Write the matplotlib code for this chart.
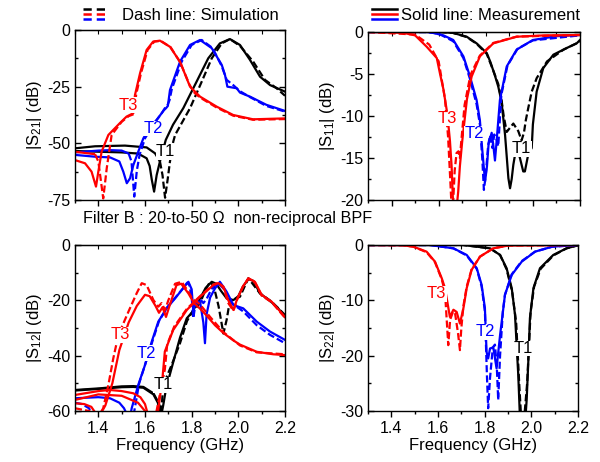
import matplotlib
matplotlib.use("Agg")
import matplotlib.pyplot as plt
from matplotlib.lines import Line2D
from matplotlib.ticker import MultipleLocator

plt.rcParams['font.family'] = ['Liberation Sans', 'DejaVu Sans']
plt.rcParams['mathtext.default'] = 'regular'

RED = '#ff0000'
BLUE = '#0000ff'
BLACK = '#000000'

# ---------------- |S21| ----------------
s21_t1_meas_f = [1.30, 1.40, 1.50, 1.57, 1.607, 1.62, 1.629, 1.639, 1.65, 1.664, 1.689, 1.72, 1.764,
                 1.821, 1.871, 1.921, 1.964, 2.007, 2.05, 2.093, 2.136, 2.2]
s21_t1_meas_db = [-53.4, -53.7, -54.0, -54.5, -56.6, -60, -66, -71.3, -64, -58, -48.5, -41.8, -34.5,
                  -22.8, -12.5, -5.9, -4.0, -6.6, -13.2, -20.6, -24.3, -27.2]
s21_t1_sim_f = [1.30, 1.386, 1.514, 1.607, 1.643, 1.664, 1.675, 1.686, 1.697, 1.707, 1.721, 1.729, 1.793,
                1.843, 1.886, 1.929, 1.964, 2.007, 2.064, 2.114, 2.164, 2.2]
s21_t1_sim_db = [-52.2, -51.3, -51.0, -51.8, -54.4, -58, -64, -74, -66, -58, -49.3, -46.3, -34.5,
                 -22.8, -12.5, -5.9, -4.0, -7.0, -14.0, -22.0, -25.7, -29.0]

s21_t2_meas_f = [1.30, 1.386, 1.45, 1.49, 1.507, 1.522, 1.536, 1.55, 1.571, 1.593, 1.62, 1.65, 1.68,
                 1.69, 1.698, 1.707, 1.75, 1.793, 1.836, 1.886, 1.929, 1.943, 1.953, 1.993, 2.007,
                 2.05, 2.12, 2.2]
s21_t2_meas_db = [-55.1, -55.9, -56.2, -58.0, -62.5, -67.6, -65.4, -59.6, -53.7, -47.8, -43, -39.7, -35.5,
                  -34.5, -33.5, -26.5, -14.0, -6.6, -4.4, -8.0, -15.4, -19.9, -25.0, -25.7, -27.6,
                  -29.4, -33.0, -35.7]
s21_t2_sim_f = [1.30, 1.40, 1.45, 1.50, 1.53, 1.542, 1.554, 1.565, 1.577, 1.60, 1.64, 1.67, 1.685,
                1.695, 1.705, 1.715, 1.757, 1.80, 1.843, 1.89, 1.929, 1.95, 1.978, 2.007, 2.05, 2.12, 2.2]
s21_t2_sim_db = [-54.0, -53.2, -53.0, -53.2, -54.5, -58, -73.5, -62, -55, -47.8, -41, -37, -34.5,
                 -33.5, -31, -26, -14, -6.6, -4.4, -8, -16, -22, -24.3, -27, -29.6, -33.5, -36]

s21_t3_meas_f = [1.30, 1.343, 1.371, 1.39, 1.40, 1.414, 1.443, 1.493, 1.521, 1.55, 1.557, 1.579, 1.607,
                 1.635, 1.664, 1.707, 1.75, 1.793, 1.836, 1.907, 1.978, 2.063, 2.2]
s21_t3_meas_db = [-57.4, -58.8, -62.5, -69.1, -62.5, -53.7, -46.3, -41.0, -38.2, -36.7, -28.7, -19.0, -8.8,
                  -5.1, -4.7, -7.4, -14.0, -25.0, -29.4, -33.8, -37.5, -39.4, -39.0]
s21_t3_sim_f = [1.30, 1.386, 1.40, 1.421, 1.436, 1.457, 1.50, 1.53, 1.555, 1.562, 1.583, 1.611, 1.64,
                1.668, 1.71, 1.752, 1.79, 1.81, 1.836, 1.907, 1.978, 2.063, 2.2]
s21_t3_sim_db = [-53.7, -54.8, -58, -74.3, -61, -46.3, -40.5, -38.0, -37.0, -28.5, -19.0, -8.8, -5.1,
                 -4.8, -7.6, -14.5, -24.0, -27.5, -29.8, -34.2, -37.8, -39.6, -39.3]

# ---------------- |S11| ----------------
s11_t1_meas_f = [1.30, 1.60, 1.66, 1.719, 1.761, 1.804, 1.82, 1.839, 1.853, 1.867, 1.882, 1.896, 1.903,
                 1.91, 1.917, 1.931, 1.945, 1.959, 1.966, 1.98, 1.995, 2.0, 2.016, 2.044, 2.087, 2.144,
                 2.186, 2.2]
s11_t1_meas_db = [0, 0, -0.1, -0.56, -1.35, -2.5, -3.6, -5.2, -6.5, -8.3, -12.3, -17.4, -18.6,
                  -17.5, -15.8, -13.5, -15.0, -16.6, -16.6, -14.6, -13.8, -11.0, -7.1, -4.3, -2.7, -1.9,
                  -1.35, -0.95]
s11_t1_sim_f = [1.30, 1.60, 1.66, 1.719, 1.761, 1.804, 1.832, 1.853, 1.867, 1.876, 1.889, 1.90, 1.917,
                1.938, 1.952, 1.962, 1.97, 1.98, 1.995, 2.016, 2.06, 2.13, 2.2]
s11_t1_sim_db = [0, 0, -0.1, -0.6, -1.4, -2.6, -4.6, -6.2, -8.1, -10.0, -11.9, -11.5, -10.9,
                 -11.8, -12.9, -12.0, -10.5, -9.1, -7.1, -5.5, -3.5, -2.1, -1.15]

s11_t2_meas_f = [1.30, 1.55, 1.576, 1.62, 1.662, 1.705, 1.733, 1.761, 1.775, 1.785, 1.797, 1.805, 1.812,
                 1.825, 1.832, 1.839, 1.846, 1.86, 1.889, 1.931, 2.0, 2.1, 2.2]
s11_t2_meas_db = [0, 0, -0.1, -0.4, -0.95, -2.9, -5.3, -8.1, -10.5, -14.0, -17.8, -16.0, -13.3,
                  -12.0, -13.5, -15.3, -13.0, -8.1, -4.1, -2.1, -0.95, -0.5, -0.36]
s11_t2_sim_f = [1.30, 1.55, 1.60, 1.662, 1.705, 1.733, 1.761, 1.775, 1.785, 1.792, 1.80, 1.81, 1.818,
                1.828, 1.836, 1.846, 1.853, 1.866, 1.892, 1.935, 2.0, 2.2]
s11_t2_sim_db = [0, 0, -0.2, -1.1, -3.1, -5.6, -8.6, -11.0, -15.0, -18.8, -17.0, -13.5, -12.3,
                 -13.8, -12.2, -12.8, -13.6, -7.5, -4.0, -2.0, -1.0, -0.4]

s11_t3_meas_f = [1.30, 1.45, 1.50, 1.549, 1.592, 1.606, 1.62, 1.637, 1.648, 1.655, 1.662, 1.676, 1.683,
                 1.69, 1.70, 1.72, 1.74, 1.775, 1.832, 1.931, 2.05, 2.2]
s11_t3_meas_db = [0, -0.1, -0.4, -1.75, -3.1, -5.0, -6.8, -9.8, -13.0, -16.0, -21.0, -21.0, -19.0,
                  -16.0, -13.0, -8.0, -5.3, -2.9, -1.35, -0.56, -0.4, -0.36]
s11_t3_sim_f = [1.30, 1.50, 1.56, 1.60, 1.627, 1.64, 1.65, 1.655, 1.662, 1.668, 1.676, 1.684, 1.69,
                1.696, 1.71, 1.735, 1.775, 1.832, 1.931, 2.2]
s11_t3_sim_db = [0, -0.3, -1.5, -3.5, -8.0, -12.5, -18.0, -21.0, -20.0, -16.5, -14.4, -14.2, -15.0,
                 -13.0, -8.7, -5.1, -2.8, -1.3, -0.55, -0.35]

# ---------------- |S12| ----------------
s12_t1_meas_f = [1.30, 1.407, 1.50, 1.55, 1.593, 1.636, 1.655, 1.664, 1.671, 1.678, 1.69, 1.714, 1.75,
                 1.779, 1.80, 1.836, 1.86, 1.886, 1.905, 1.925, 1.95, 1.979, 2.0, 2.02, 2.043, 2.065,
                 2.093, 2.14, 2.17, 2.2]
s12_t1_meas_db = [-52.4, -51.8, -51.1, -51.0, -51.3, -53.6, -56.5, -58.4, -61, -58, -52, -44.5, -33.5,
                  -26.5, -24.5, -19.3, -15.5, -13.3, -14.0, -16.5, -19.3, -19.9, -18.5, -15.0, -12.3, -13.0,
                  -17.5, -20.5, -22.8, -26.0]
s12_t1_sim_f = [1.30, 1.407, 1.50, 1.55, 1.593, 1.636, 1.655, 1.664, 1.672, 1.678, 1.714, 1.75, 1.78,
                1.80, 1.836, 1.86, 1.879, 1.895, 1.915, 1.936, 1.95, 1.964, 1.985, 2.007, 2.043, 2.093,
                2.143, 2.2]
s12_t1_sim_db = [-52.6, -52.0, -51.4, -51.3, -51.6, -54.0, -57.0, -60.5, -58, -50.6, -43.4, -35.5, -27.5,
                 -24.5, -21.0, -16.0, -13.3, -15.0, -22.0, -32.0, -27.0, -20.0, -19.5, -18.7, -12.0, -17.5,
                 -20.5, -25.3]

s12_t2_meas_f = [1.30, 1.40, 1.45, 1.49, 1.51, 1.521, 1.532, 1.543, 1.571, 1.60, 1.629, 1.657, 1.693,
                 1.729, 1.757, 1.786, 1.80, 1.807, 1.815, 1.836, 1.85, 1.857, 1.864, 1.879, 1.90, 1.921,
                 1.95, 1.979, 2.021, 2.079, 2.136, 2.2]
s12_t2_meas_db = [-55.4, -55.0, -55.4, -57.0, -59.0, -61, -64, -59, -50.6, -43.4, -34.9, -27.7, -22.9,
                  -19.3, -16.3, -13.3, -16.0, -24.0, -21.0, -20.5, -28.0, -35.5, -25.0, -19.0, -15.7, -13.3,
                  -16.9, -21.7, -22.9, -27.7, -31.3, -34.3]
s12_t2_sim_f = [1.30, 1.33, 1.36, 1.38, 1.45, 1.55, 1.575, 1.605, 1.633, 1.66, 1.695, 1.73, 1.76,
                1.781, 1.79, 1.80, 1.807, 1.815, 1.836, 1.85, 1.864, 1.885, 1.91, 1.94, 1.97, 2.021,
                2.079, 2.136, 2.2]
s12_t2_sim_db = [-57.0, -57.5, -59.0, -62, -66, -62, -50, -42, -34.5, -27.5, -22.5, -19.0, -16.0,
                 -13.6, -14.5, -19.0, -26.5, -22.0, -19.5, -21.0, -19.5, -16.0, -13.6, -16.0, -21.0, -24.0,
                 -29.0, -32.5, -35.5]

s12_t3_meas_f = [1.30, 1.34, 1.37, 1.39, 1.41, 1.43, 1.46, 1.49, 1.53, 1.565, 1.60, 1.62, 1.645, 1.66,
                 1.675, 1.69, 1.705, 1.735, 1.755, 1.786, 1.81, 1.836, 1.864, 1.90, 1.936, 1.979, 2.007,
                 2.079, 2.15, 2.2]
s12_t3_meas_db = [-57.2, -57.5, -58.5, -61, -61, -58, -50, -38, -28, -22, -18, -18.5, -22, -24.5,
                  -22.5, -26, -22, -14.5, -14.0, -17.5, -21.0, -23.0, -25.5, -29.0, -31.8, -34.5, -36.0,
                  -38.6, -39.5, -39.8]
s12_t3_sim_f = [1.30, 1.36, 1.40, 1.421, 1.443, 1.464, 1.486, 1.529, 1.564, 1.586, 1.607, 1.636, 1.657,
                1.671, 1.686, 1.70, 1.729, 1.757, 1.786, 1.80, 1.836, 1.879, 1.936, 2.007, 2.079, 2.2]
s12_t3_sim_db = [-59.0, -60.0, -62, -59, -50.6, -41.0, -32.5, -24.1, -17.5, -13.8, -14.5, -19.9, -22.3,
                 -21.0, -23.5, -20.0, -14.0, -13.3, -16.9, -19.0, -21.5, -26.0, -31.5, -36.3, -38.8, -39.5]
s12_t3b_meas_f = [1.30, 1.40, 1.45, 1.50, 1.55, 1.58, 1.60, 1.615, 1.65, 1.675, 1.685, 1.721, 1.779,
                  1.836, 1.893, 1.915, 1.936, 1.957, 1.979, 1.995, 2.02, 2.043, 2.071, 2.10, 2.143, 2.2]
s12_t3b_meas_db = [-54.2, -52.8, -52.4, -52.8, -53.6, -55.0, -57.5, -62, -64, -48, -38.5, -30.7, -23.5,
                   -18.7, -14.5, -13.8, -15.0, -20.0, -23.5, -19.5, -15.0, -12.0, -13.3, -18.0, -20.5, -26.0]
s12_t3b_sim_f = [1.30, 1.40, 1.50, 1.57, 1.60, 1.64, 1.685, 1.695, 1.725, 1.78, 1.836, 1.893, 1.915,
                 1.936, 1.957, 1.979, 1.995, 2.02, 2.043, 2.071, 2.10, 2.143, 2.2]
s12_t3b_sim_db = [-56.0, -54.0, -54.5, -57.0, -60.0, -64, -45, -36, -29.5, -23.0, -18.5, -14.3, -13.6,
                  -15.5, -21.0, -23.8, -19.7, -15.0, -12.2, -13.5, -18.3, -20.7, -26.3]

# ---------------- |S22| ----------------
s22_t1_meas_f = [1.30, 1.708, 1.823, 1.866, 1.894, 1.916, 1.93, 1.944, 1.951, 1.96, 1.975, 1.98, 1.987,
                 1.994, 2.009, 2.037, 2.094, 2.151, 2.2]
s22_t1_meas_db = [0, 0, -0.6, -1.8, -4.2, -7.8, -12.6, -23.5, -31, -32, -31, -28, -21.1,
                  -13.2, -7.8, -4.2, -1.8, -0.6, -0.05]
s22_t1_sim_f = [1.30, 1.708, 1.823, 1.866, 1.894, 1.918, 1.935, 1.948, 1.956, 1.97, 1.982, 1.99, 1.997,
                2.012, 2.04, 2.094, 2.151, 2.2]
s22_t1_sim_db = [0, 0, -0.6, -1.8, -4.4, -8.5, -14.0, -25.0, -31, -31, -25.0, -18.0, -12.0,
                 -7.5, -4.3, -1.9, -0.6, -0.05]

s22_t2_meas_f = [1.30, 1.566, 1.666, 1.723, 1.766, 1.787, 1.801, 1.808, 1.815, 1.823, 1.837, 1.851, 1.866,
                 1.887, 1.916, 1.959, 2.016, 2.09, 2.2]
s22_t2_meas_db = [0, 0, -0.6, -1.8, -4.2, -7.2, -11.4, -19.3, -20.5, -18.7, -18.5, -22.3, -16.3,
                  -9.0, -5.4, -3.0, -1.2, -0.3, 0]
s22_t2_sim_f = [1.30, 1.566, 1.666, 1.723, 1.766, 1.787, 1.801, 1.81, 1.815, 1.823, 1.835, 1.844, 1.852,
                1.858, 1.866, 1.878, 1.887, 1.916, 1.959, 2.016, 2.09, 2.2]
s22_t2_sim_db = [0, 0, -0.6, -1.9, -4.3, -7.5, -12.0, -24.0, -29.5, -24.0, -18.5, -18.0, -22.0,
                 -28.0, -20.0, -12.0, -9.0, -5.3, -2.9, -1.2, -0.3, 0]

s22_t3_meas_f = [1.30, 1.45, 1.494, 1.551, 1.587, 1.616, 1.63, 1.651, 1.666, 1.68, 1.694, 1.709, 1.723,
                 1.744, 1.78, 1.837, 1.90, 2.2]
s22_t3_meas_db = [0, -0.05, -0.3, -1.2, -3.0, -6.0, -7.8, -13.0, -11.7, -12.1, -14.2, -11.4, -7.8,
                  -4.5, -2.1, -0.6, -0.1, 0]
s22_t3_sim_f = [1.30, 1.45, 1.494, 1.551, 1.587, 1.616, 1.63, 1.644, 1.652, 1.665, 1.673, 1.686, 1.694,
                1.70, 1.709, 1.723, 1.744, 1.78, 1.837, 1.90, 2.2]
s22_t3_sim_db = [0, -0.05, -0.3, -1.3, -3.1, -6.2, -8.5, -18.1, -13.5, -12.0, -12.3, -16.0, -19.0,
                 -15.0, -11.0, -7.5, -4.4, -2.1, -0.6, -0.1, 0]

DASH = (0, (3.2, 1.4))
LW = 1.6


def draw(ax, f, db, color, dashed=False, solid_below=None):
    if dashed and solid_below is not None:
        i = max(k for k, v in enumerate(f) if v <= solid_below)
        ax.plot(f[:i + 1], db[:i + 1], color=color, lw=LW, solid_capstyle='butt')
        ax.plot(f[i:], db[i:], color=color, lw=LW, ls=DASH)
    else:
        ax.plot(f, db, color=color, lw=LW, ls=DASH if dashed else '-')


def style(ax, ylim, major, minor, ylabel, xlabels):
    ax.set_xlim(1.3, 2.2)
    ax.set_ylim(*ylim)
    ax.xaxis.set_major_locator(MultipleLocator(0.2))
    ax.xaxis.set_minor_locator(MultipleLocator(0.1))
    ax.yaxis.set_major_locator(MultipleLocator(major))
    ax.yaxis.set_minor_locator(MultipleLocator(minor))
    ax.tick_params(axis='y', which='both', direction='in', left=True, right=True, labelsize=11.5)
    ax.tick_params(axis='x', which='both', direction='out', top=False, labelsize=11.5)
    ax.tick_params(which='major', length=4, width=1)
    ax.tick_params(which='minor', length=2.5, width=1)
    sec = ax.secondary_xaxis('top')
    sec.xaxis.set_major_locator(MultipleLocator(0.1))
    sec.tick_params(direction='in', length=3, labeltop=False)
    ax.set_ylabel(ylabel, fontsize=12, labelpad=2)
    if xlabels:
        ax.set_xlabel('Frequency (GHz)', fontsize=12, labelpad=1)
        ax.xaxis.set_major_formatter(plt.FuncFormatter(lambda v, p: f'{v:.1f}'))
    else:
        ax.tick_params(axis='x', labelbottom=False)
    ax.yaxis.set_major_formatter(plt.FuncFormatter(lambda v, p: f'{v:g}'))
    for s in ax.spines.values():
        s.set_linewidth(1)


def tag(ax, x, y, text, color):
    ax.text(x, y, text, color=color, fontsize=12, ha='center', va='center', zorder=5,
            bbox=dict(facecolor='white', edgecolor='none', pad=0.3))


fig = plt.figure(figsize=(6, 4.62), dpi=100)
ax21 = fig.add_axes([75 / 600, 1 - 200 / 462, 210 / 600, 170 / 462])
ax11 = fig.add_axes([368 / 600, 1 - 200 / 462, 212 / 600, 168 / 462])
ax12 = fig.add_axes([75 / 600, 1 - 411 / 462, 210 / 600, 166 / 462])
ax22 = fig.add_axes([368 / 600, 1 - 411 / 462, 210 / 600, 166 / 462])

# S21
draw(ax21, s21_t1_meas_f, s21_t1_meas_db, BLACK)
draw(ax21, s21_t1_sim_f, s21_t1_sim_db, BLACK, True, 1.664)
draw(ax21, s21_t2_meas_f, s21_t2_meas_db, BLUE)
draw(ax21, s21_t2_sim_f, s21_t2_sim_db, BLUE, True, 1.53)
draw(ax21, s21_t3_meas_f, s21_t3_meas_db, RED)
draw(ax21, s21_t3_sim_f, s21_t3_sim_db, RED, True, 1.386)
style(ax21, (-75, 0), 25, 12.5, r'|S$_{21}$| (dB)', False)
tag(ax21, 1.528, -33.1, 'T3', RED)
tag(ax21, 1.636, -43.4, 'T2', BLUE)
tag(ax21, 1.689, -53.7, 'T1', BLACK)

# S11
draw(ax11, s11_t1_meas_f, s11_t1_meas_db, BLACK)
draw(ax11, s11_t1_sim_f, s11_t1_sim_db, BLACK, True)
draw(ax11, s11_t2_meas_f, s11_t2_meas_db, BLUE)
draw(ax11, s11_t2_sim_f, s11_t2_sim_db, BLUE, True)
draw(ax11, s11_t3_meas_f, s11_t3_meas_db, RED)
draw(ax11, s11_t3_sim_f, s11_t3_sim_db, RED, True)
style(ax11, (-20, 0), 5, 2.5, r'|S$_{11}$| (dB)', False)
tag(ax11, 1.638, -10.3, 'T3', RED)
tag(ax11, 1.75, -12.1, 'T2', BLUE)
tag(ax11, 1.952, -13.9, 'T1', BLACK)

# S12
draw(ax12, s12_t1_meas_f, s12_t1_meas_db, BLACK)
draw(ax12, s12_t1_sim_f, s12_t1_sim_db, BLACK, True, 1.664)
draw(ax12, s12_t2_meas_f, s12_t2_meas_db, BLUE)
draw(ax12, s12_t2_sim_f, s12_t2_sim_db, BLUE, True)
draw(ax12, s12_t3_meas_f, s12_t3_meas_db, RED)
draw(ax12, s12_t3_sim_f, s12_t3_sim_db, RED, True)
draw(ax12, s12_t3b_meas_f, s12_t3b_meas_db, RED)
draw(ax12, s12_t3b_sim_f, s12_t3b_sim_db, RED, True, 1.64)
style(ax12, (-60, 0), 20, 10, r'|S$_{12}$| (dB)', True)
tag(ax12, 1.493, -32.5, 'T3', RED)
tag(ax12, 1.607, -39.1, 'T2', BLUE)
tag(ax12, 1.679, -50.6, 'T1', BLACK)

# S22
draw(ax22, s22_t1_meas_f, s22_t1_meas_db, BLACK)
draw(ax22, s22_t1_sim_f, s22_t1_sim_db, BLACK, True)
draw(ax22, s22_t2_meas_f, s22_t2_meas_db, BLUE)
draw(ax22, s22_t2_sim_f, s22_t2_sim_db, BLUE, True)
draw(ax22, s22_t3_meas_f, s22_t3_meas_db, RED)
draw(ax22, s22_t3_sim_f, s22_t3_sim_db, RED, True)
style(ax22, (-30, 0), 10, 5, r'|S$_{22}$| (dB)', True)
tag(ax22, 1.594, -8.8, 'T3', RED)
tag(ax22, 1.801, -15.7, 'T2', BLUE)
tag(ax22, 1.966, -18.7, 'T1', BLACK)

# legend-style annotations at the top
for yy, c in zip([9, 14, 19], [BLACK, RED, BLUE]):
    fig.add_artist(Line2D([83 / 600, 107 / 600], [1 - yy / 462] * 2, color=c, lw=1.8,
                          ls=(0, (3.3, 2.0)), transform=fig.transFigure))
    fig.add_artist(Line2D([372 / 600, 397 / 600], [1 - yy / 462] * 2, color=c, lw=1.8,
                          transform=fig.transFigure))
fig.text(122 / 600, 1 - 15 / 462, 'Dash line: Simulation', fontsize=12, va='center')
fig.text(401 / 600, 1 - 15 / 462, 'Solid line: Measurement', fontsize=12, va='center')
fig.text(83 / 600, 1 - 218 / 462, 'Filter B : 20-to-50 \u03a9  non-reciprocal BPF', fontsize=11.6,
         va='center')

fig.savefig('out.png', dpi=100)
